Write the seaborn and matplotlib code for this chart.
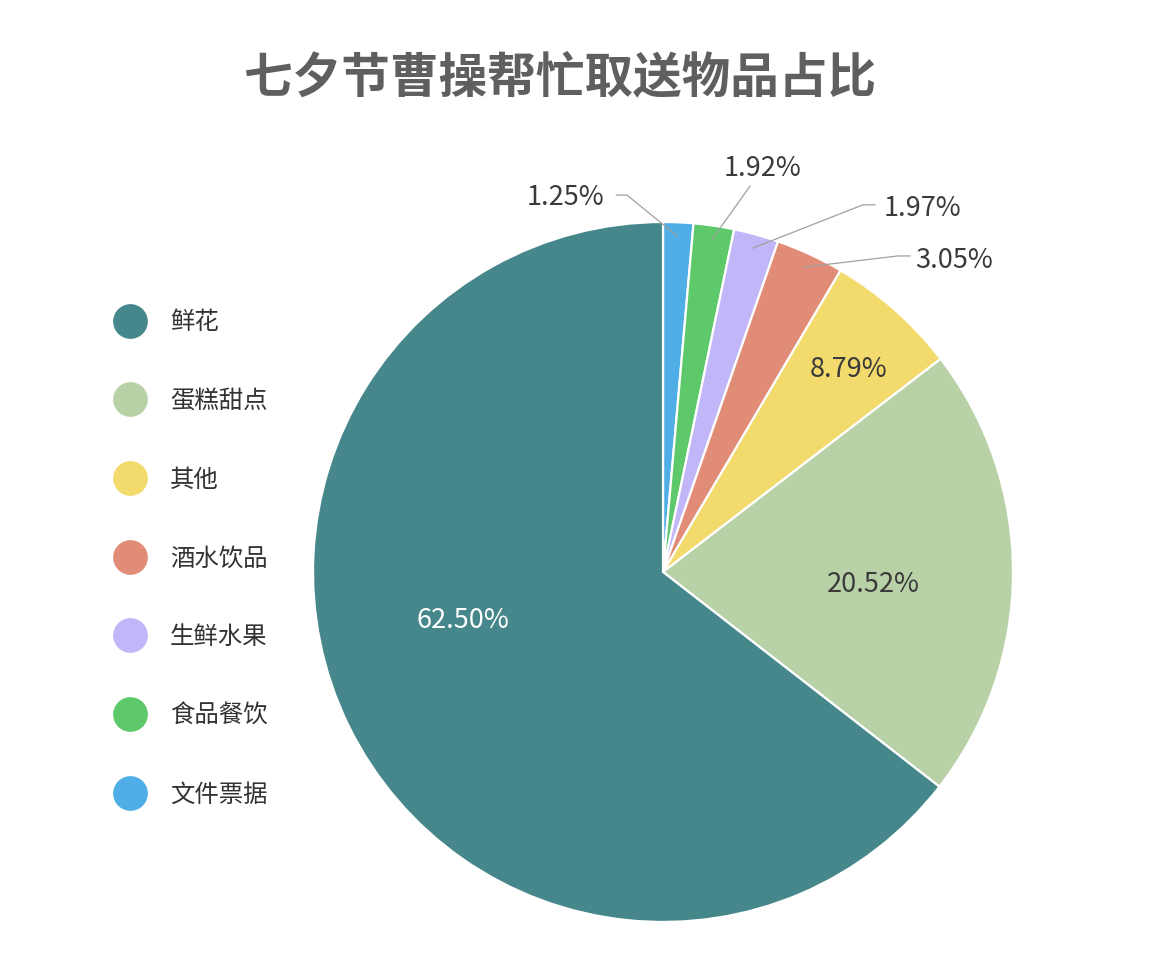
import numpy as np
import matplotlib
matplotlib.use("Agg")
import matplotlib.pyplot as plt
from matplotlib.lines import Line2D
import seaborn as sns

# data, in clockwise order starting at 12 o'clock
categories = ["文件票据", "食品餐饮", "生鲜水果", "酒水饮品", "其他", "蛋糕甜点", "鲜花"]
# slice sizes as drawn in the picture (the printed labels differ from the drawn angles)
slice_sizes = [1.39, 1.87, 2.07, 3.14, 6.11, 20.93, 64.49]
pct_labels = ["1.25%", "1.92%", "1.97%", "3.05%", "8.79%", "20.52%", "62.50%"]
colors = ["#50AEE6", "#5EC96B", "#C1B6F7", "#E18C76", "#F2DA6C", "#B8D1A7", "#45878A"]
legend_order = ["鲜花", "蛋糕甜点", "其他", "酒水饮品", "生鲜水果", "食品餐饮", "文件票据"]
title = "七夕节曹操帮忙取送物品占比"

sns.set_theme(style="white")
plt.rcParams["font.family"] = ["Noto Sans CJK SC", "DejaVu Sans"]

palette = sns.color_palette(colors)

fig = plt.figure(figsize=(11.58, 9.64), dpi=100)
ax = fig.add_axes([0.2703, 0.0436, 0.6045, 0.7261])

wedges, _ = ax.pie(slice_sizes, colors=palette, startangle=90, counterclock=False,
                   radius=1, wedgeprops=dict(edgecolor="white", linewidth=1.6))
ax.set_xlim(-1, 1)
ax.set_ylim(-1, 1)
ax.set_aspect("equal")
ax.axis("off")

text_color = "#3a3a3a"

# label placement in units of the radius
inside = {"其他": (0.531, 0.58), "蛋糕甜点": (0.6, -0.037), "鲜花": (-0.571, -0.14)}
# callouts: (elbow x, elbow y, end x, text x, text y, ha)
callouts = {
    "文件票据": (-0.103, 1.077, -0.134, -0.169, 1.071, "right"),
    "食品餐饮": (0.249, 1.103, None, 0.283, 1.154, "center"),
    "生鲜水果": (0.571, 1.049, 0.606, 0.629, 1.038, "left"),
    "酒水饮品": (0.671, 0.903, 0.706, 0.72, 0.889, "left"),
}

for w, cat, label in zip(wedges, categories, pct_labels):
    mid = np.deg2rad((w.theta1 + w.theta2) / 2)
    if cat in inside:
        x, y = inside[cat]
        col = "white" if cat == "鲜花" else text_color
        ax.text(x, y, label, ha="center", va="center", fontsize=19.5, color=col)
    else:
        ex, ey, endx, tx, ty, ha = callouts[cat]
        sx, sy = 0.96 * np.cos(mid), 0.96 * np.sin(mid)
        xs, ys = [sx, ex], [sy, ey]
        if endx is not None:
            xs.append(endx)
            ys.append(ey)
        ax.plot(xs, ys, color="#a0a0a0", lw=0.9, clip_on=False)
        ax.text(tx, ty, label, ha=ha, va="center", fontsize=19.5,
                color=text_color, clip_on=False)

# legend with round markers
color_of = dict(zip(categories, palette))
handles = [Line2D([0], [0], marker="o", linestyle="", markersize=25,
                  markerfacecolor=color_of[c], markeredgecolor="none") for c in legend_order]
fig.legend(handles, legend_order, loc="upper left", bbox_to_anchor=(0.0775, 0.702),
           frameon=False, fontsize=17.6, labelcolor="#333333", labelspacing=2.155,
           handletextpad=0.88, handlelength=1.5)

fig.text(0.484, 0.919, title, ha="center", va="center", fontsize=35,
         fontweight="bold", color="#5f5f5f")

fig.savefig("out.png", dpi=100, facecolor="white")
